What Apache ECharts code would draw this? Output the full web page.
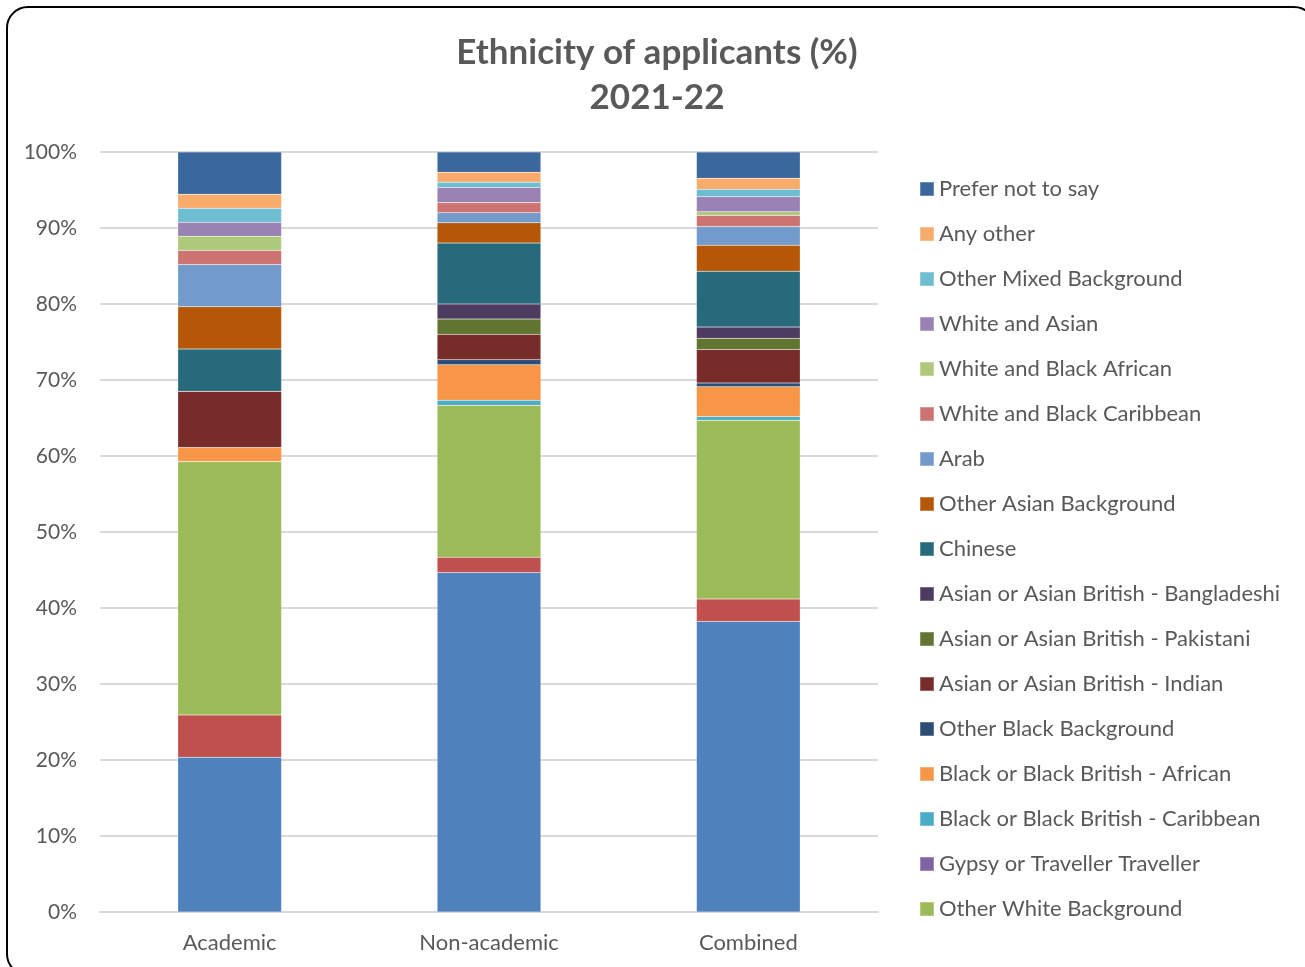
<!DOCTYPE html>
<html>
<head>
<meta charset="utf-8">
<script src="https://cdn.jsdelivr.net/npm/echarts@6/dist/echarts.min.js"></script>
<style>
  html, body { margin: 0; padding: 0; background: #fff; overflow: hidden; }
  #frame {
    position: absolute; left: 6px; top: 6px; width: 1310px; height: 970px;
    border: 2px solid #000; border-radius: 22px; box-sizing: border-box;
  }
  #chart { position: absolute; left: 0; top: 0; width: 1305px; height: 967px; }
</style>
</head>
<body>
<div id="frame"></div>
<div id="chart"></div>
<script>
// categories
const categories = ['Academic', 'Non-academic', 'Combined'];

// series values (%), bottom of the stack first
const whiteBritish      = [20.37, 44.67, 38.24];
const whiteIrish        = [5.56, 2.00, 2.94];
const otherWhite        = [33.33, 20.00, 23.53];
const gypsy             = [0, 0, 0];
const blackCaribbean    = [0, 0.67, 0.49];
const blackAfrican      = [1.85, 4.67, 3.92];
const otherBlack        = [0, 0.67, 0.49];
const asianIndian       = [7.41, 3.33, 4.41];
const asianPakistani    = [0, 2.00, 1.47];
const asianBangladeshi  = [0, 2.00, 1.47];
const chinese           = [5.56, 8.00, 7.35];
const otherAsian        = [5.56, 2.67, 3.43];
const arab              = [5.56, 1.33, 2.45];
const whiteBlackCarib   = [1.85, 1.33, 1.47];
const whiteBlackAfrican = [1.85, 0, 0.49];
const whiteAsian        = [1.85, 2.00, 1.96];
const otherMixed        = [1.85, 0.67, 0.98];
const anyOther          = [1.85, 1.33, 1.47];
const preferNot         = [5.56, 2.67, 3.43];

// y-axis tick labels
const yTicks = ['0%', '10%', '20%', '30%', '40%', '50%', '60%', '70%', '80%', '90%', '100%'];

const stackSeries = [
  ['White British', whiteBritish, '#4F81BD'],
  ['White Irish', whiteIrish, '#C0504D'],
  ['Other White Background', otherWhite, '#9BBB59'],
  ['Gypsy or Traveller Traveller', gypsy, '#8064A2'],
  ['Black or Black British - Caribbean', blackCaribbean, '#4BACC6'],
  ['Black or Black British - African', blackAfrican, '#F79646'],
  ['Other Black Background', otherBlack, '#2C4D75'],
  ['Asian or Asian British - Indian', asianIndian, '#772C2A'],
  ['Asian or Asian British - Pakistani', asianPakistani, '#5F7530'],
  ['Asian or Asian British - Bangladeshi', asianBangladeshi, '#4D3B62'],
  ['Chinese', chinese, '#276A7C'],
  ['Other Asian Background', otherAsian, '#B65708'],
  ['Arab', arab, '#729ACA'],
  ['White and Black Caribbean', whiteBlackCarib, '#CD7371'],
  ['White and Black African', whiteBlackAfrican, '#AFC97A'],
  ['White and Asian', whiteAsian, '#9983B5'],
  ['Other Mixed Background', otherMixed, '#6FBDD1'],
  ['Any other', anyOther, '#F9AB6B'],
  ['Prefer not to say', preferNot, '#3A679C']
];

// legend is cut short in the original: the two bottom series do not show
const legendNames = stackSeries.slice(2).map(s => s[0]).reverse();

const chart = echarts.init(document.getElementById('chart'));
const textColor = '#595959';
const font = 'Lato, "Open Sans", sans-serif';

chart.setOption({
  animation: false,
  textStyle: { fontFamily: font },
  title: {
    text: 'Ethnicity of applicants (%)\n2021-22',
    left: 652,
    textAlign: 'center',
    top: 25,
    textStyle: {
      fontFamily: font,
      fontSize: 35,
      fontWeight: 'bold',
      color: textColor,
      lineHeight: 45
    }
  },
  grid: { left: 100, right: 427, top: 152, bottom: 55 },
  legend: {
    data: legendNames,
    orient: 'vertical',
    left: 914,
    top: 172,
    itemWidth: 14,
    itemHeight: 14,
    itemGap: 21,
    icon: 'rect',
    textStyle: { fontFamily: font, fontSize: 22, color: textColor, lineHeight: 24 }
  },
  xAxis: {
    type: 'category',
    data: categories,
    axisLine: { lineStyle: { color: '#D9D9D9', width: 2 } },
    axisTick: { show: false },
    axisLabel: { fontFamily: font, fontSize: 22, color: textColor, margin: 20 }
  },
  yAxis: {
    type: 'value',
    min: 0,
    max: 100,
    interval: 10,
    axisLine: { show: false },
    axisTick: { show: false },
    splitLine: { lineStyle: { color: '#D9D9D9', width: 2 } },
    axisLabel: {
      fontFamily: font,
      fontSize: 21,
      color: textColor,
      margin: 23,
      formatter: (v) => yTicks[Math.round(v / 10)]
    }
  },
  series: stackSeries.map(([name, data, color]) => ({
    name: name,
    type: 'bar',
    stack: 'total',
    barWidth: '40%',
    data: data,
    itemStyle: { color: color, borderColor: 'rgba(255,255,255,0.25)', borderWidth: 0.5 }
  }))
});
</script>
</body>
</html>
